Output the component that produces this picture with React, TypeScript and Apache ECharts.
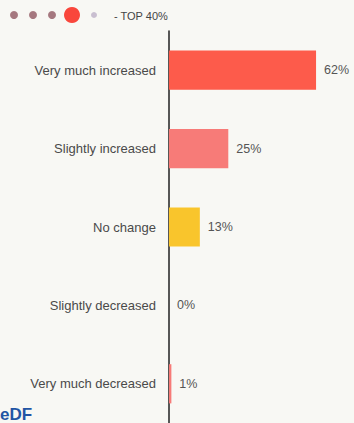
import React, { useEffect, useRef } from "react";
import * as echarts from "echarts";

const categories = [
  "Very much increased",
  "Slightly increased",
  "No change",
  "Slightly decreased",
  "Very much decreased",
];
const values = [62, 25, 13, 0, 1];
const barColors = ["#fd5b4b", "#f77b78", "#f9c52c", "#f77b78", "#f77b78"];
const headerText = "- TOP 40%";
const logoText = "eDF";

export default function App() {
  const ref = useRef<HTMLDivElement>(null);
  useEffect(() => {
    if (!ref.current) return;
    const chart = echarts.init(ref.current, undefined, { renderer: "svg" });
    const font = "'Liberation Sans', Arial, sans-serif";
    chart.setOption({
      animation: false,
      backgroundColor: "#f8f8f4",
      grid: { left: 169, right: 0, top: 31, bottom: -2, containLabel: false },
      xAxis: {
        type: "value",
        min: 0,
        max: 78,
        show: false,
      },
      yAxis: {
        type: "category",
        inverse: true,
        data: categories,
        axisLine: { show: true, lineStyle: { color: "#222", width: 1.5 } },
        axisTick: { show: false },
        axisLabel: {
          color: "#4a4a4a",
          fontSize: 13,
          fontFamily: font,
          margin: 13,
        },
        splitLine: { show: false },
      },
      series: [
        {
          type: "bar",
          data: values.map((v, i) => ({ value: v, itemStyle: { color: barColors[i] } })),
          barWidth: "50%",
          label: {
            show: true,
            position: "right",
            distance: 8,
            formatter: "{c}%",
            color: "#555",
            fontSize: 12.5,
            fontFamily: font,
          },
        },
      ],
      graphic: [
        { type: "circle", shape: { cx: 14, cy: 15, r: 4 }, style: { fill: "#a5787f" } },
        { type: "circle", shape: { cx: 33, cy: 15, r: 4 }, style: { fill: "#a5787f" } },
        { type: "circle", shape: { cx: 52, cy: 15, r: 4 }, style: { fill: "#a5787f" } },
        { type: "circle", shape: { cx: 72, cy: 15, r: 8 }, style: { fill: "#f9473c" } },
        { type: "circle", shape: { cx: 94, cy: 15, r: 3 }, style: { fill: "#c9bfd0" } },
        {
          type: "text",
          x: 114,
          y: 16,
          style: {
            text: headerText,
            fill: "#444",
            fontSize: 11,
            fontFamily: font,
            verticalAlign: "middle",
          },
        },
        {
          type: "text",
          x: 0,
          y: 423,
          style: {
            text: logoText,
            fill: "#2255a4",
            fontSize: 17,
            fontWeight: "bold",
            fontFamily: font,
            verticalAlign: "bottom",
          },
        },
      ],
    });
    return () => chart.dispose();
  }, []);
  return (
    <div
      ref={ref}
      style={{ position: "fixed", left: 0, top: 0, width: 354, height: 423 }}
    />
  );
}
